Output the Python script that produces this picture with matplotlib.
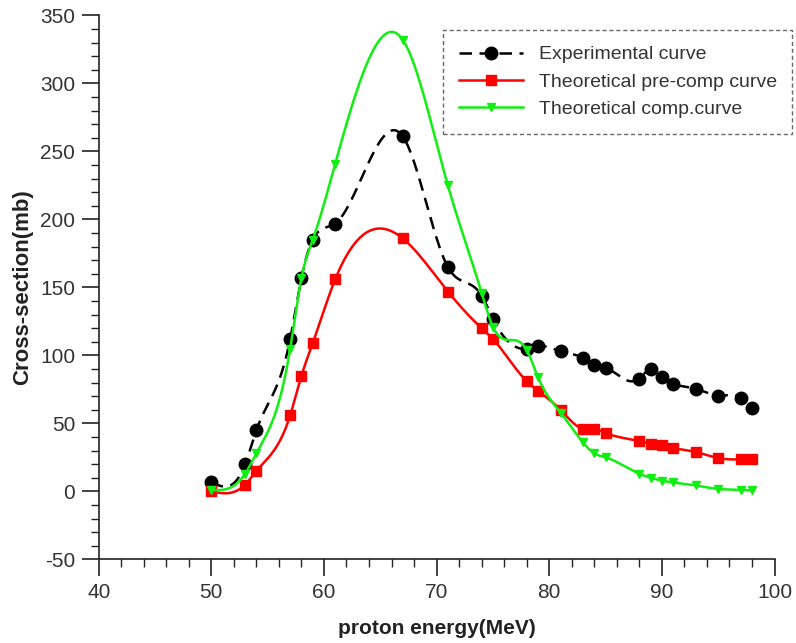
import numpy as np
import matplotlib
matplotlib.use('Agg')
import matplotlib.pyplot as plt
from matplotlib.ticker import MultipleLocator

plt.rcParams['font.family'] = ['Liberation Sans', 'DejaVu Sans']
plt.rcParams['axes.unicode_minus'] = False

# values
exp_x = [50, 53, 54, 57, 58, 59, 61, 67, 71, 74, 75, 78, 79, 81, 83, 84, 85,
         88, 89, 90, 91, 93, 95, 97, 98]
exp_y = [7, 20, 45, 112, 157, 185, 197, 261, 165, 144, 127, 105, 107, 103, 98,
         93, 91, 83, 90, 84, 79, 75.5, 70.5, 69, 61]

pre_x = [50, 53, 54, 57, 58, 59, 61, 67, 71, 74, 75, 78, 79, 81, 83, 84, 85,
         88, 89, 90, 91, 93, 95, 97, 98]
pre_y = [0, 5, 15, 56, 85, 109, 156, 186, 147, 120, 112, 81, 74, 60, 46, 46, 43,
         37, 35, 34, 32, 29, 24.5, 23.5, 23.5]

comp_x = [50, 53, 54, 57, 58, 59, 61, 67, 71, 74, 75, 78, 79, 81, 83, 84, 85,
          88, 89, 90, 91, 93, 95, 97, 98]
comp_y = [1, 13, 28, 105, 157, 185, 241, 332, 225, 146, 121, 104, 84, 58, 36,
          28, 25, 13, 10, 8, 6.6, 4.4, 1.8, 1.2, 0.7]

labels = ['Experimental curve', 'Theoretical pre-comp curve',
          'Theoretical comp.curve']


def spline(x, y, n=600):
    # natural cubic spline through the points, like the smoothed lines in the original
    x = np.asarray(x, float)
    y = np.asarray(y, float)
    m = len(x)
    h = np.diff(x)
    A = np.zeros((m, m))
    r = np.zeros(m)
    A[0, 0] = A[-1, -1] = 1
    for i in range(1, m - 1):
        A[i, i - 1] = h[i - 1]
        A[i, i] = 2 * (h[i - 1] + h[i])
        A[i, i + 1] = h[i]
        r[i] = 3 * ((y[i + 1] - y[i]) / h[i] - (y[i] - y[i - 1]) / h[i - 1])
    c = np.linalg.solve(A, r)
    b = (y[1:] - y[:-1]) / h - h * (2 * c[:-1] + c[1:]) / 3
    d = (c[1:] - c[:-1]) / (3 * h)
    xs = np.union1d(np.linspace(x[0], x[-1], n), x)
    k = np.clip(np.searchsorted(x, xs, side='right') - 1, 0, m - 2)
    dx = xs - x[k]
    ys = y[k] + b[k] * dx + c[k] * dx ** 2 + d[k] * dx ** 3
    marks = list(np.searchsorted(xs, x))
    return xs, ys, marks


fig = plt.figure(figsize=(7.96, 6.43), dpi=100)
ax = fig.add_axes([0.124, 0.130, 0.849, 0.846])

xs, ys, mk = spline(exp_x, exp_y)
ax.plot(xs, ys, color='black', lw=1.8, ls=(0, (5, 3)), marker='o', ms=9,
        markevery=mk, label=labels[0])
xs, ys, mk = spline(pre_x, pre_y)
ax.plot(xs, ys, color='#ff0000', lw=1.8, marker='s', ms=6.5,
        markevery=mk, label=labels[1])
xs, ys, mk = spline(comp_x, comp_y)
ax.plot(xs, ys, color='#11ee11', lw=1.8, marker='v', ms=5.5,
        markevery=mk, label=labels[2])

ax.set_xlim(40, 100)
ax.set_ylim(-50, 350)
ax.xaxis.set_major_locator(MultipleLocator(10))
ax.xaxis.set_minor_locator(MultipleLocator(2))
ax.yaxis.set_major_locator(MultipleLocator(50))
ax.yaxis.set_minor_locator(MultipleLocator(10))
ax.spines['top'].set_visible(False)
ax.spines['right'].set_visible(False)
for s in ('left', 'bottom'):
    ax.spines[s].set_linewidth(1.2)
    ax.spines[s].set_color('#222222')
ax.tick_params(which='major', length=12, width=1.2, color='#222222',
               labelsize=15, labelcolor='#333333', pad=5)
ax.tick_params(which='minor', length=6, width=1.0, color='#222222')

ax.set_xlabel('proton energy(MeV)', fontsize=15, fontweight='bold',
              color='#222222', labelpad=12)
ax.set_ylabel('Cross-section(mb)', fontsize=16, fontweight='bold',
              color='#222222', labelpad=5)

leg = ax.legend(loc='upper left', bbox_to_anchor=(0.557, 0.953),
                bbox_transform=fig.transFigure, borderaxespad=0,
                fontsize=14, frameon=True, fancybox=False, handlelength=3.3,
                handletextpad=0.8, labelspacing=0.5, borderpad=0.8,
                labelcolor='#333333')
frame = leg.get_frame()
frame.set_edgecolor('#444444')
frame.set_linestyle((0, (3, 2)))
frame.set_linewidth(1.0)

fig.savefig('out.png', dpi=100)
